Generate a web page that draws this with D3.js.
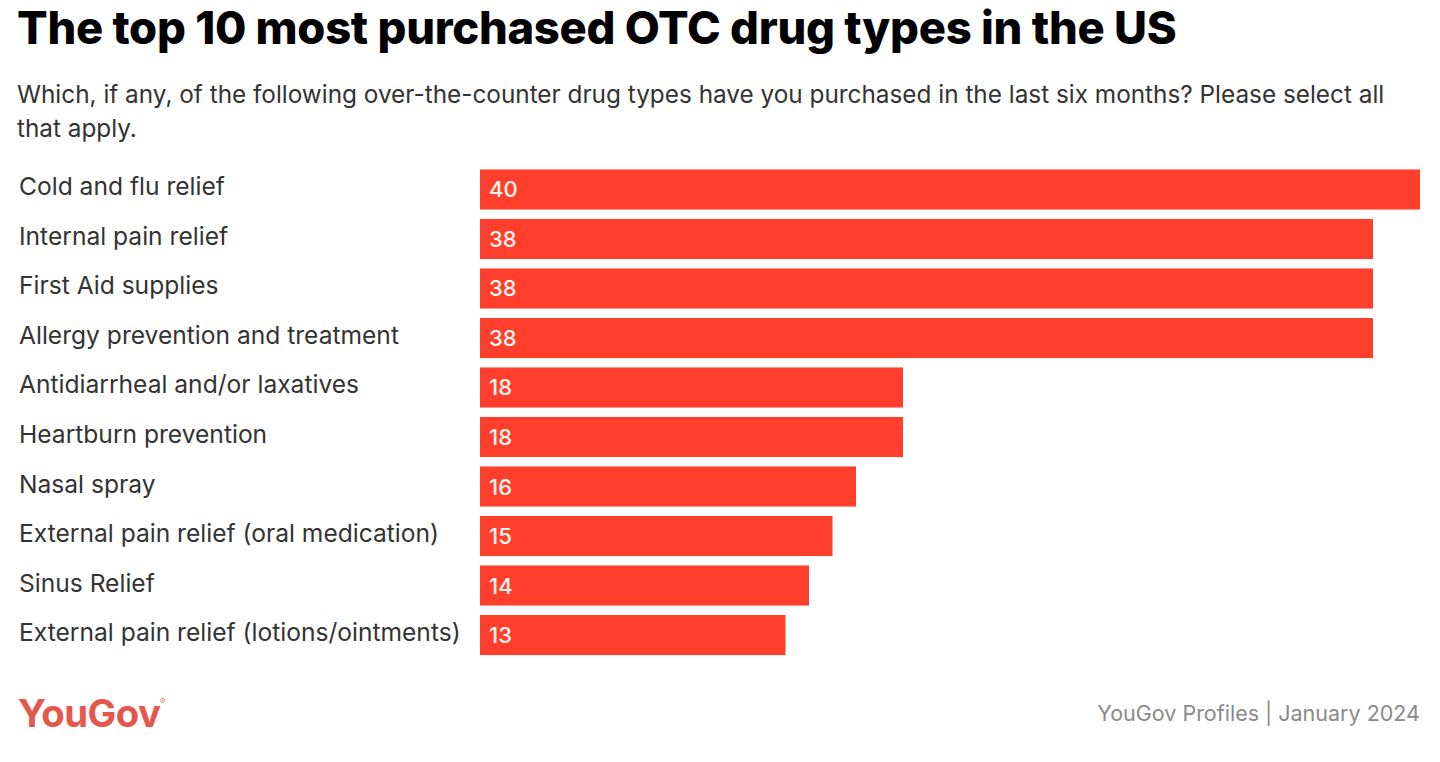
<!DOCTYPE html>
<html><head><meta charset="utf-8">
<script src="https://cdn.jsdelivr.net/npm/d3@7"></script>
<style>body{margin:0;background:#fff;} svg{display:block;}</style>
</head><body>
<svg id="c" width="1440" height="762"></svg>
<script>
const categories = ["Cold and flu relief","Internal pain relief","First Aid supplies","Allergy prevention and treatment","Antidiarrheal and/or laxatives","Heartburn prevention","Nasal spray","External pain relief (oral medication)","Sinus Relief","External pain relief (lotions/ointments)"];
const values = [40,38,38,38,18,18,16,15,14,13];
const title = "The top 10 most purchased OTC drug types in the US";
const subtitleLines = ["Which, if any, of the following over-the-counter drug types have you purchased in the last six months? Please select all","that apply."];
const source = "YouGov Profiles | January 2024";

const FONT = "Inter, sans-serif";
const svg = d3.select("#c");
svg.append("rect").attr("width",1440).attr("height",762).attr("fill","#fff");

function fit(sel, target, base){
  const w = sel.node().getComputedTextLength();
  const fs = base * target / w;
  sel.attr("font-size", fs);
  return fs;
}

const t = svg.append("text").attr("x",17).attr("y",44).text(title)
  .attr("font-family",FONT).attr("font-weight",800).attr("font-size",40)
  .attr("fill","#000").attr("letter-spacing","-0.3");
fit(t, 1158, 40);

const s0 = svg.append("text").attr("x",17).attr("y",103).text(subtitleLines[0])
  .attr("font-family",FONT).attr("font-size",22).attr("fill","#333");
const sfs = fit(s0, 1368, 22);
svg.append("text").attr("x",17).attr("y",137).text(subtitleLines[1])
  .attr("font-family",FONT).attr("font-size",sfs).attr("fill","#333");

const x = d3.scaleLinear().domain([0,40]).range([480,1420]);
const y = d3.scaleBand().domain(categories).range([164.5,660]).paddingInner(0.19).paddingOuter(0.1);

svg.selectAll("rect.bar").data(values).join("rect").attr("class","bar")
  .attr("x",x(0)).attr("y",(d,i)=>y(categories[i])).attr("width",d=>x(d)-x(0))
  .attr("height",y.bandwidth()).attr("fill","#ff3e2b");

const probe = svg.append("text").text(categories[0]).attr("font-family",FONT).attr("font-size",22);
const lfs = 22 * 206 / probe.node().getComputedTextLength();
probe.remove();

svg.selectAll("text.lab").data(categories).join("text").attr("class","lab")
  .attr("x",19).attr("y",d=>y(d)+y.bandwidth()/2+6).text(d=>d)
  .attr("font-family",FONT).attr("font-size",lfs).attr("fill","#333");

svg.selectAll("text.val").data(values).join("text").attr("class","val")
  .attr("x",x(0)+9).attr("y",(d,i)=>y(categories[i])+y.bandwidth()/2+8).text(d=>d)
  .attr("font-family",FONT).attr("font-weight",500).attr("font-size",22).attr("fill","#fff5f0");

const logo = svg.append("text").attr("x",18).attr("y",727).text("YouGov")
  .attr("font-family",FONT).attr("font-weight",700).attr("font-size",32)
  .attr("fill","#e4584b").attr("letter-spacing","-0.5");
fit(logo, 142, 32);
svg.append("text").attr("x",160).attr("y",704).text("®")
  .attr("font-family",FONT).attr("font-size",8).attr("fill","#e4584b");

const src = svg.append("text").attr("x",1420).attr("y",721).attr("text-anchor","end").text(source)
  .attr("font-family",FONT).attr("font-size",20).attr("fill","#8a8a8a");
fit(src, 323, 20);
</script>
</body></html>
